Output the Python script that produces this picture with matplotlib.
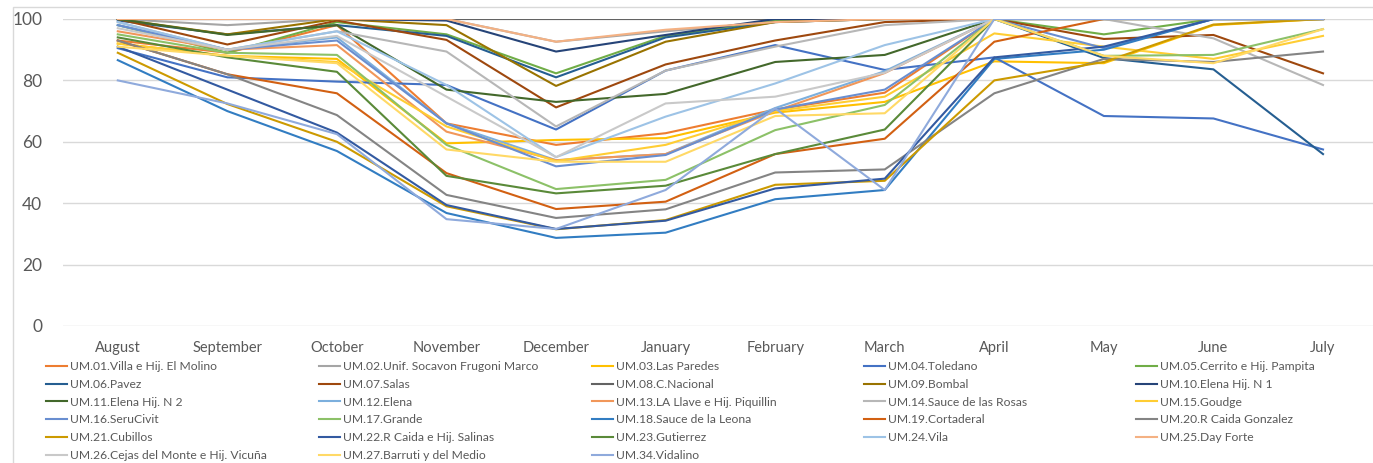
import matplotlib
matplotlib.use("Agg")
import matplotlib.pyplot as plt
from matplotlib.patches import Rectangle

months = ["August", "September", "October", "November", "December", "January",
          "February", "March", "April", "May", "June", "July"]

labels = [
    "UM.01.Villa e Hij. El Molino", "UM.02.Unif. Socavon Frugoni Marco", "UM.03.Las Paredes",
    "UM.04.Toledano", "UM.05.Cerrito e Hij. Pampita", "UM.06.Pavez", "UM.07.Salas",
    "UM.08.C.Nacional", "UM.09.Bombal", "UM.10.Elena Hij. N 1", "UM.11.Elena Hij. N 2",
    "UM.12.Elena", "UM.13.LA Llave e Hij. Piquillin", "UM.14.Sauce de las Rosas",
    "UM.15.Goudge", "UM.16.SeruCivit", "UM.17.Grande", "UM.18.Sauce de la Leona",
    "UM.19.Cortaderal", "UM.20.R Caida Gonzalez", "UM.21.Cubillos",
    "UM.22.R Caida e Hij. Salinas", "UM.23.Gutierrez", "UM.24.Vila", "UM.25.Day Forte",
    "UM.26.Cejas del Monte e Hij. Vicuña", "UM.27.Barruti y del Medio", "UM.34.Vidalino",
]

um01 = [93, 89, 98, 66, 59, 62.8, 70.5, 76, 100, 100, 100, 100]
um02 = [100, 98, 100, 100, 92.6, 96, 99, 100, 100, 100, 100, 100]
um03 = [92, 88, 87, 59.5, 60.6, 61.2, 69.5, 73, 86.2, 85.6, 98, 100]
um04 = [90.5, 81, 79.6, 78.5, 64, 83.2, 91.5, 83.4, 87.5, 68.4, 67.6, 57.5]
um05 = [98, 89, 99, 95, 82.3, 94.5, 99.5, 100, 100, 95, 100, 100]
um06 = [99.5, 95, 98, 94.5, 81, 94, 99, 100, 100, 87.3, 83.6, 56]
um07 = [100, 91.7, 99.5, 93.2, 71.2, 85.2, 93, 99, 100, 93.5, 94.8, 82.3]
um08 = [100, 100, 100, 100, 100, 100, 100, 100, 100, 100, 100, 100]
um09 = [100, 95, 100, 98, 78.2, 92.6, 99, 100, 100, 100, 100, 100]
um10 = [100, 100, 100, 99.5, 89.4, 94.8, 100, 100, 100, 100, 100, 100]
um11 = [100, 94.8, 98, 77, 73, 75.6, 86, 88.3, 100, 100, 100, 100]
um12 = [98, 90, 94, 66, 54, 56, 71, 83, 100, 100, 100, 100]
um13 = [96, 90, 91.5, 63.3, 54, 56, 70, 82.4, 100, 100, 100, 100]
um14 = [99, 90, 96, 89.4, 65, 83.2, 91, 98, 100, 100, 93.7, 78.5]
um15 = [92, 88, 86, 65, 53.7, 59, 70, 74.7, 95.3, 91, 87, 94.5]
um16 = [98, 90, 93, 66, 52, 55.7, 70.5, 77, 100, 90.5, 100, 100]
um17 = [95, 89, 88.3, 59, 44.6, 47.6, 63.8, 72, 100, 88, 88.3, 96.7]
um18 = [86.6, 70, 57, 36.8, 28.7, 30.4, 41.3, 44.3, 87, 90, 100, 100]
um19 = [93, 82, 75.8, 49.8, 38.1, 40.5, 56, 61, 92.6, 100, 100, 100]
um20 = [93, 82, 68.7, 42.7, 35.2, 38, 50, 51, 75.8, 87, 86, 89.4]
um21 = [89, 72.3, 60, 39, 31.5, 34.5, 46, 47.3, 80, 86, 98.2, 100]
um22 = [91, 77, 63, 39.4, 31.6, 34.3, 44.8, 48, 87.5, 91, 100, 100]
um23 = [94, 87.5, 82.8, 48.9, 43.2, 45.7, 56, 64, 100, 100, 100, 100]
um24 = [99, 90, 96, 78.5, 55, 68.2, 79, 91.5, 100, 100, 100, 100]
um25 = [100, 100, 100, 100, 92.6, 96.5, 99, 100, 100, 100, 100, 100]
um26 = [97, 90, 94.5, 74.7, 55, 72.5, 74.7, 82.5, 100, 100, 100, 100]
um27 = [91, 88, 85.6, 57.5, 53.5, 53.5, 68.4, 69.3, 100, 88, 85.6, 96.7]
um34 = [80, 72.5, 62.5, 34.8, 31.6, 44.3, 70.9, 44.3, 100, 100, 100, 100]

series = [um01, um02, um03, um04, um05, um06, um07, um08, um09, um10, um11, um12, um13, um14,
          um15, um16, um17, um18, um19, um20, um21, um22, um23, um24, um25, um26, um27, um34]

colors = [
    "#ED7D31", "#A5A5A5", "#FFC000", "#4472C4", "#70AD47", "#255E91", "#9E480E",
    "#636363", "#997300", "#264478", "#43682B", "#7CAFDD", "#F1975A", "#B7B7B7",
    "#FFCD33", "#698ED0", "#8CC168", "#327DC2", "#D26012", "#848484", "#CC9A00",
    "#335AA1", "#5A8A39", "#9DC3E6", "#F4B183", "#C9C9C9", "#FFD966", "#8FAADC",
]

plt.rcParams["font.family"] = ["Lato", "DejaVu Sans"]
W, H = 1373, 463
fig = plt.figure(figsize=(W / 100, H / 100), dpi=100)

ax = fig.add_axes([63 / W, (H - 326) / H, 1 - 63 / W, (326 - 19) / H])
x = list(range(len(months)))
handles = []
for vals, col, lab in zip(series, colors, labels):
    (ln,) = ax.plot(x, vals, color=col, lw=1.5, label=lab, solid_joinstyle="round")
    handles.append(ln)

ax.set_xlim(-0.5, 11.5 - 4.8 / 109.6)
ax.set_ylim(0, 100)
ax.set_yticks([0, 20, 40, 60, 80, 100])
ax.set_xticks(x)
ax.set_xticklabels(months)
ax.grid(axis="y", color="#D9D9D9", lw=1)
ax.set_axisbelow(True)
for s in ax.spines.values():
    s.set_visible(False)
ax.tick_params(axis="both", length=0, colors="#595959")
ax.tick_params(axis="y", labelsize=12.5, pad=15)
ax.tick_params(axis="x", labelsize=10.5, pad=11)

# chart frame
fig.patches.append(Rectangle((13 / W, -0.1), 1.2, (H - 7) / H + 0.1, transform=fig.transFigure,
                             fill=False, edgecolor="#D9D9D9", lw=1, clip_on=False))

# legend: five fixed-width columns filled row by row
ncols = 5
col_x = [46, 319, 592, 864, 1136]
for c in range(ncols):
    idx = list(range(c, len(series), ncols))
    leg = fig.legend([handles[i] for i in idx], [labels[i] for i in idx],
                     loc="upper left", bbox_to_anchor=(col_x[c] / W, (H - 361) / H),
                     frameon=False, fontsize=8.7, handlelength=1.75, handletextpad=0.2,
                     labelspacing=0.56, borderpad=0, borderaxespad=0)
    for t in leg.get_texts():
        t.set_color("#595959")

fig.savefig("out.png", dpi=100)
